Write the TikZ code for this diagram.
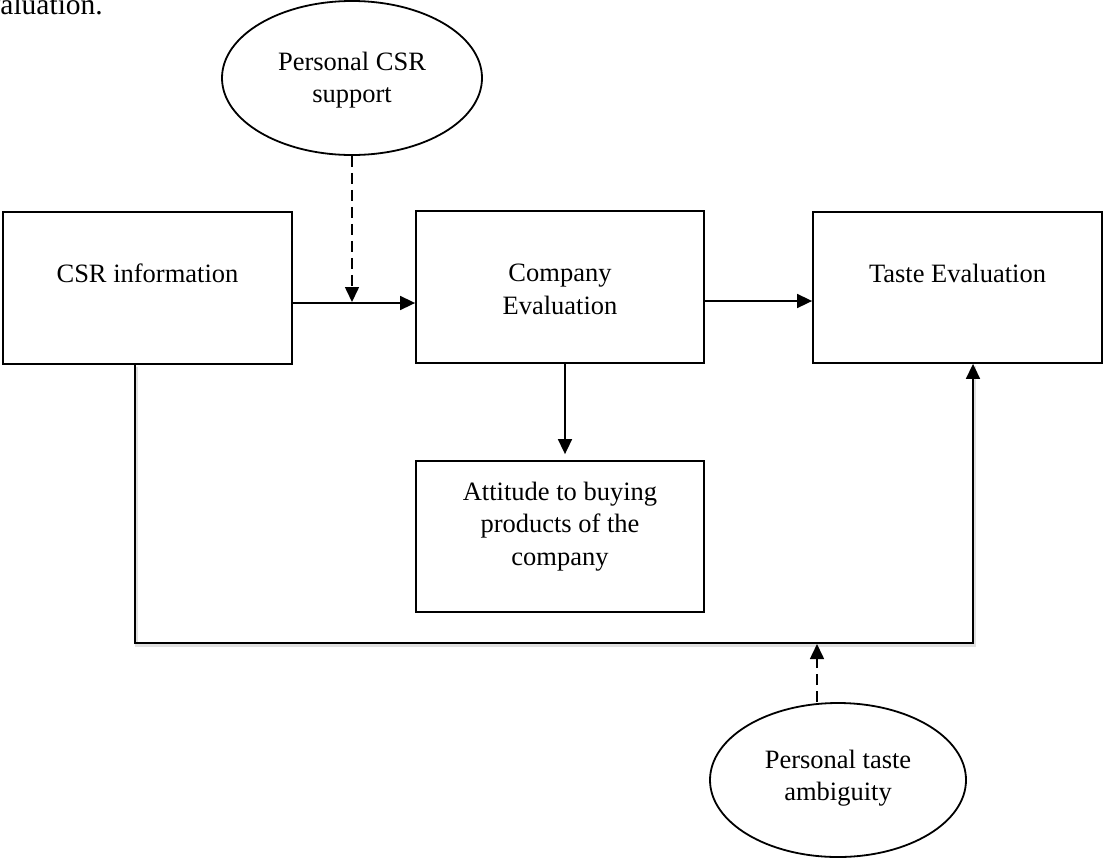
\documentclass[tikz,border=0pt]{standalone}
\usepackage{fontspec}
\setmainfont{Liberation Serif}
\usetikzlibrary{arrows.meta,shapes.geometric}
\begin{document}
\begin{tikzpicture}[x=1pt,y=-1pt,
  frame/.style={draw, rectangle, line width=1.8pt, inner sep=0pt},
  oval/.style={draw, ellipse, line width=1.8pt, inner sep=0pt},
  lbl/.style={font=\fontsize{26.5}{32.5}\selectfont, align=center, inner sep=0pt},
  link/.style={line width=1.6pt, -{Triangle[length=15pt,width=14pt]}},
  cue/.style={link, dash pattern=on 11pt off 6pt},
  haze/.style={line width=3.5pt, black!12}]
\useasboundingbox (0,0) rectangle (1105,860);

% running text of the page, cut at the top edge
\begin{scope}
  \clip (0,0) rectangle (1105,860);
  \node[font=\fontsize{29.5}{34}\selectfont, anchor=base east, inner sep=0pt] (lead) at (103,14) {Evaluation.};
\end{scope}

% boxes
\node[frame, minimum width=289pt, minimum height=152pt] (csr) at (147.5,288) {};
\node[frame, minimum width=288pt, minimum height=152pt] (company) at (560,287) {};
\node[frame, minimum width=289pt, minimum height=151pt] (taste) at (957.5,287.5) {};
\node[frame, minimum width=288pt, minimum height=151pt] (att) at (560,536.5) {};

% moderators
\node[oval, minimum width=260pt, minimum height=154pt] (tp) at (352,78) {};
\node[oval, minimum width=256pt, minimum height=154pt] (bp) at (838,780) {};

% texts
\node[lbl] (csrtxt) at ([yshift=15pt]csr.center) {CSR information};
\node[lbl] (comptxt) at ([yshift=-2.5pt]company.center) {Company\\Evaluation};
\node[lbl] (tastetxt) at ([yshift=14.5pt]taste.center) {Taste Evaluation};
\node[lbl] (atttxt) at ([yshift=10pt]att.center) {Attitude to buying\\products of the\\company};
\node[lbl] (tptxt) at ([yshift=-2pt]tp.center) {Personal CSR\\support};
\node[lbl] (bptxt) at ([yshift=2pt]bp.center) {Personal taste\\ambiguity};

% connection points
\coordinate (j1) at ([yshift=-15pt]csr.east);
\coordinate (j2) at ([yshift=-14pt]company.east);
\coordinate (j3) at ([xshift=5pt]company.south);
\coordinate (j4) at ([xshift=-12.5pt]csr.south);
\coordinate (j5) at ([xshift=15.5pt]taste.south);
\coordinate (base) at (500,643);
\coordinate (j6) at ([xshift=-21pt]bp.north);

% soft shadow of the long return line
\begin{scope}[transform canvas={shift={(1.5pt,-2.5pt)}}]
  \draw[haze] (j4) |- (base) -| (j5);
\end{scope}

% connectors
\draw[link] (j1) -- (j1 -| company.west);
\draw[cue, shorten >=1pt] (tp.south) -- (tp.south |- j1);
\draw[link] (j2) -- (j2 -| taste.west);
\draw[link, shorten >=6pt] (j3) -- (j3 |- att.north);
\draw[link] (j4) |- (base) -| (j5);
\draw[cue, shorten >=1pt] (j6) -- (j6 |- base);
\end{tikzpicture}
\end{document}
